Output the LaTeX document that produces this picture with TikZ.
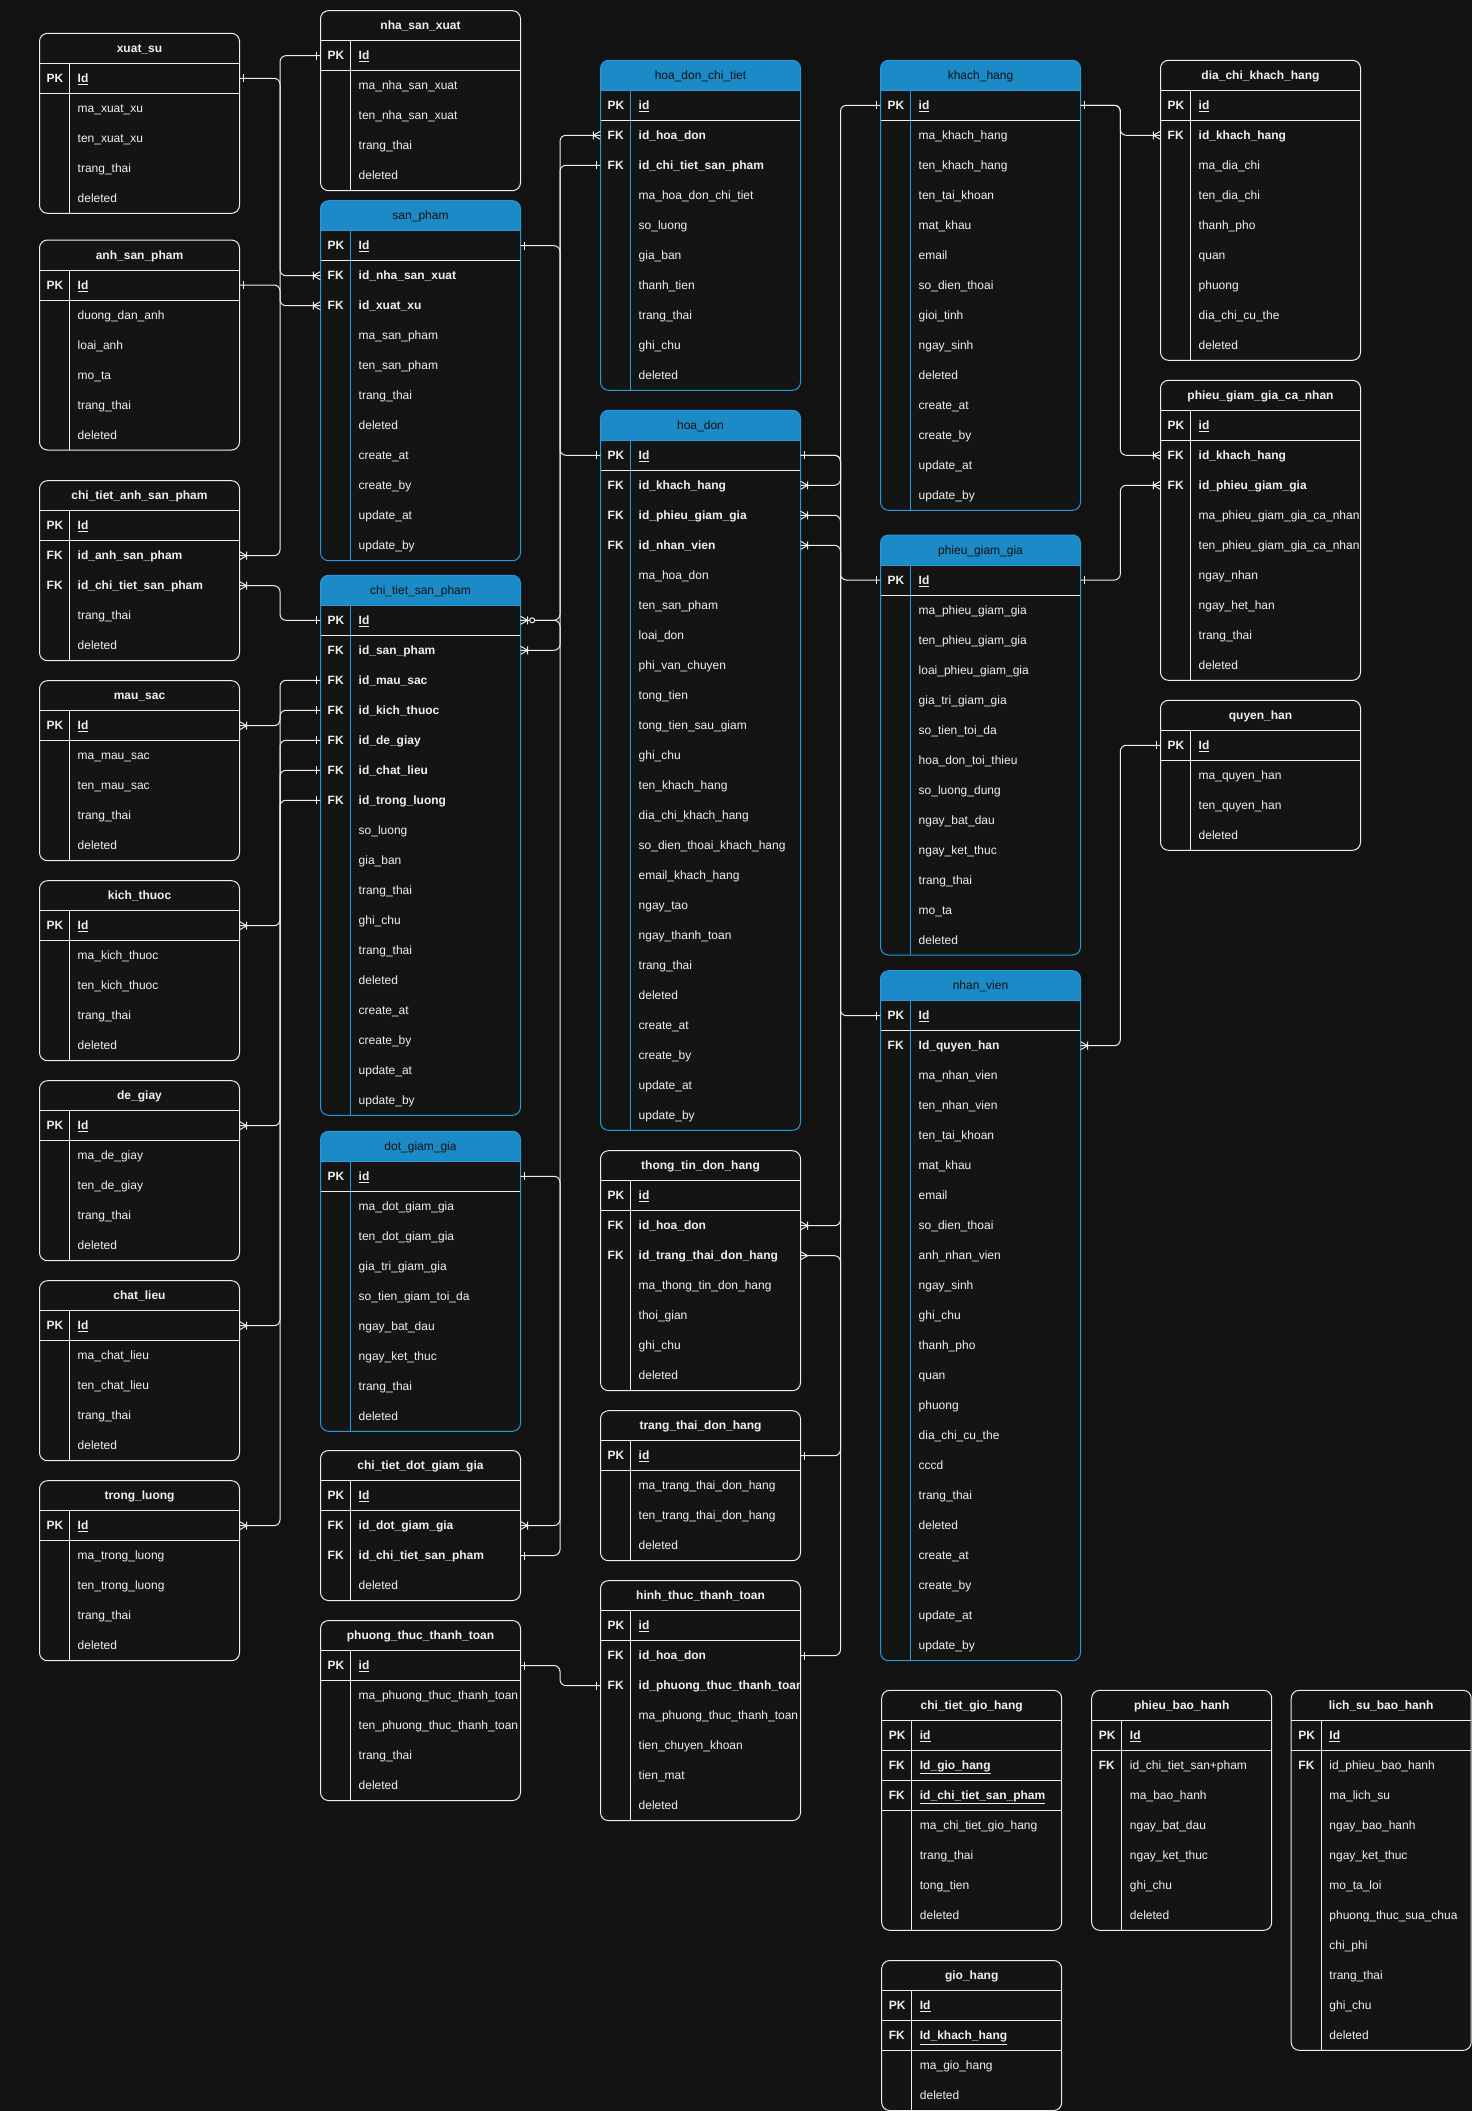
\documentclass[tikz,border=0pt]{standalone}
\usepackage{fontspec}
\setmainfont{Liberation Sans}
\definecolor{bgc}{HTML}{121212}
\definecolor{tblbg}{HTML}{141414}
\definecolor{ertext}{HTML}{F0F0F0}
\definecolor{erline}{HTML}{EEEEEE}
\definecolor{erhead}{HTML}{1B8AC6}
\definecolor{erblue}{HTML}{2A97DA}
\definecolor{erdark}{HTML}{111111}
\newcommand{\pk}[1]{\textbf{\underline{#1}}}
\newcommand{\fk}[1]{\textbf{#1}}
\tikzset{
  cline/.style={draw=erline, line width=1pt},
  rowbox/.style={inner sep=0pt, minimum height=30pt, draw=none},
  keytxt/.style={anchor=west, inner sep=0pt, text=ertext, font=\bfseries\fontsize{12}{14}\selectfont, text height=10pt, text depth=1.5pt},
  fldtxt/.style={anchor=west, inner sep=0pt, text=ertext, font=\fontsize{12}{14}\selectfont, text height=10pt, text depth=1.5pt},
  bluebd/.style={draw=erblue, line width=1pt},
  whitebd/.style={draw=erline, line width=1pt},
  bluehd/.style={fill=erhead},
  whitehd/.style={fill=tblbg},
  bluett/.style={inner sep=0pt, text=erdark, font=\fontsize{12}{14}\selectfont, text height=10pt, text depth=1.5pt},
  whitett/.style={inner sep=0pt, text=ertext, font=\bfseries\fontsize{12}{14}\selectfont, text height=10pt, text depth=1.5pt},
  sepline/.style={draw=erline, line width=1pt},
  mkone/.pic={\draw[cline] (4,-4) -- (4,4);},
  mkmany/.pic={\draw[cline] (0,-4) -- (7,0) -- (0,4);},
  mkonemany/.pic={\draw[cline] (0,-4) -- (7,0) -- (0,4) (7,-4) -- (7,4);},
  mkzeromany/.pic={\draw[cline] (0,-4) -- (7,0) -- (0,4) (7,-4) -- (7,4); \draw[cline, fill=bgc] (11.5,0) circle[radius=2.5];},
}
% #1 name, #2 x, #3 y, #4 w, #5 rows, #6 kind, #7 title, #8 rows list
\newcommand{\ertbl}[8]{%
  \pgfmathsetmacro{\erX}{#2}%
  \pgfmathsetmacro{\erY}{#3}%
  \pgfmathsetmacro{\erW}{#4}%
  \pgfmathsetmacro{\erB}{#3+30*(#5+1)}%
  \pgfmathsetmacro{\erR}{#2+#4}%
  \pgfmathsetmacro{\erH}{#3+30}%
  \pgfmathsetmacro{\erK}{#2+30}%
  \pgfmathsetmacro{\erC}{#2+#4/2}%
  \fill[tblbg, rounded corners=8pt] (\erX,\erY) rectangle (\erR,\erB);
  \fill[#6hd, rounded corners=8pt] (\erX,\erY) rectangle (\erR,\erH);
  \fill[#6hd] (\erX,\erY+15) rectangle (\erR,\erH);
  \node[#6tt] (#1-h) at (\erC,\erY+15) {#7};
  \draw[#6bd] (\erK,\erH) -- (\erK,\erB);
  \draw[#6bd] (\erX,\erH) -- (\erR,\erH);
  \begin{scope}
    \clip (\erX,\erY) rectangle (\erR,\erB);
    \foreach \erk/\ert/\ers [count=\eri] in {#8} {
      \pgfmathsetmacro{\erYc}{\erY+30*\eri+15}
      \node[rowbox, minimum width=\erW pt] (#1-r\eri) at (\erC,\erYc) {};
      \node[keytxt] at (\erX+7,\erYc) {\erk};
      \node[fldtxt] at (\erX+38,\erYc) {\ert};
      \ifnum\ers>0 \draw[sepline] (\erX,\erYc+15) -- (\erR,\erYc+15); \fi
    }
  \end{scope}
  \draw[#6bd, rounded corners=8pt] (\erX,\erY) rectangle (\erR,\erB);
}
\newcommand{\erlink}[3]{\draw[cline, rounded corners=6pt] (#1) -- (#1 -| #3) -- (#3 |- #2) -- (#2);}
\newcommand{\mkE}[2]{\pic at (#1.east) {#2};}
\newcommand{\mkW}[2]{\pic[xscale=-1] at (#1.west) {#2};}
\begin{document}
\begin{tikzpicture}[x=1pt,y=-1pt]
\useasboundingbox (0,0) rectangle (1472,2111);
\fill[bgc] (0,0) rectangle (1472,2111);
\coordinate (chA) at (280,0);
\coordinate (chB) at (560,0);
\coordinate (chC) at (840.5,0);
\coordinate (chD) at (1120.3,0);
% column 1
\ertbl{xs}{39.5}{33.3}{200}{5}{white}{xuat\_su}{PK/\pk{Id}/1, /ma\_xuat\_xu/0, /ten\_xuat\_xu/0, /trang\_thai/0, /deleted/0}
\ertbl{asp}{39.5}{240}{200}{6}{white}{anh\_san\_pham}{PK/\pk{Id}/1, /duong\_dan\_anh/0, /loai\_anh/0, /mo\_ta/0, /trang\_thai/0, /deleted/0}
\ertbl{ctasp}{39.5}{480.7}{200}{5}{white}{chi\_tiet\_anh\_san\_pham}{PK/\pk{Id}/1, FK/\fk{id\_anh\_san\_pham}/0, FK/\fk{id\_chi\_tiet\_san\_pham}/0, /trang\_thai/0, /deleted/0}
\ertbl{ms}{39.5}{680.7}{200}{5}{white}{mau\_sac}{PK/\pk{Id}/1, /ma\_mau\_sac/0, /ten\_mau\_sac/0, /trang\_thai/0, /deleted/0}
\ertbl{kt}{39.5}{880.7}{200}{5}{white}{kich\_thuoc}{PK/\pk{Id}/1, /ma\_kich\_thuoc/0, /ten\_kich\_thuoc/0, /trang\_thai/0, /deleted/0}
\ertbl{dg}{39.5}{1080.7}{200}{5}{white}{de\_giay}{PK/\pk{Id}/1, /ma\_de\_giay/0, /ten\_de\_giay/0, /trang\_thai/0, /deleted/0}
\ertbl{cl}{39.5}{1280.7}{200}{5}{white}{chat\_lieu}{PK/\pk{Id}/1, /ma\_chat\_lieu/0, /ten\_chat\_lieu/0, /trang\_thai/0, /deleted/0}
\ertbl{tl}{39.5}{1480.7}{200}{5}{white}{trong\_luong}{PK/\pk{Id}/1, /ma\_trong\_luong/0, /ten\_trong\_luong/0, /trang\_thai/0, /deleted/0}
% column 2
\ertbl{nsx}{320.5}{10.7}{200}{5}{white}{nha\_san\_xuat}{PK/\pk{Id}/1, /ma\_nha\_san\_xuat/0, /ten\_nha\_san\_xuat/0, /trang\_thai/0, /deleted/0}
\ertbl{sp}{320.5}{200.7}{200}{11}{blue}{san\_pham}{PK/\pk{Id}/1, FK/\fk{id\_nha\_san\_xuat}/0, FK/\fk{id\_xuat\_xu}/0, /ma\_san\_pham/0, /ten\_san\_pham/0, /trang\_thai/0, /deleted/0, /create\_at/0, /create\_by/0, /update\_at/0, /update\_by/0}
\ertbl{ctsp}{320.5}{575.3}{200}{17}{blue}{chi\_tiet\_san\_pham}{PK/\pk{Id}/1, FK/\fk{id\_san\_pham}/0, FK/\fk{id\_mau\_sac}/0, FK/\fk{id\_kich\_thuoc}/0, FK/\fk{id\_de\_giay}/0, FK/\fk{id\_chat\_lieu}/0, FK/\fk{id\_trong\_luong}/0, /so\_luong/0, /gia\_ban/0, /trang\_thai/0, /ghi\_chu/0, /trang\_thai/0, /deleted/0, /create\_at/0, /create\_by/0, /update\_at/0, /update\_by/0}
\ertbl{dgg}{320.5}{1131.3}{200}{9}{blue}{dot\_giam\_gia}{PK/\pk{id}/1, /ma\_dot\_giam\_gia/0, /ten\_dot\_giam\_gia/0, /gia\_tri\_giam\_gia/0, /so\_tien\_giam\_toi\_da/0, /ngay\_bat\_dau/0, /ngay\_ket\_thuc/0, /trang\_thai/0, /deleted/0}
\ertbl{ctdgg}{320.5}{1450.5}{200}{4}{white}{chi\_tiet\_dot\_giam\_gia}{PK/\pk{Id}/1, FK/\fk{id\_dot\_giam\_gia}/0, FK/\fk{id\_chi\_tiet\_san\_pham}/0, /deleted/0}
\ertbl{pttt}{320.5}{1620.5}{200}{5}{white}{phuong\_thuc\_thanh\_toan}{PK/\pk{id}/1, /ma\_phuong\_thuc\_thanh\_toan/0, /ten\_phuong\_thuc\_thanh\_toan/0, /trang\_thai/0, /deleted/0}
% column 3
\ertbl{hdct}{600.5}{60.3}{200}{10}{blue}{hoa\_don\_chi\_tiet}{PK/\pk{id}/1, FK/\fk{id\_hoa\_don}/0, FK/\fk{id\_chi\_tiet\_san\_pham}/0, /ma\_hoa\_don\_chi\_tiet/0, /so\_luong/0, /gia\_ban/0, /thanh\_tien/0, /trang\_thai/0, /ghi\_chu/0, /deleted/0}
\ertbl{hd}{600.5}{410.3}{200}{23}{blue}{hoa\_don}{PK/\pk{Id}/1, FK/\fk{id\_khach\_hang}/0, FK/\fk{id\_phieu\_giam\_gia}/0, FK/\fk{id\_nhan\_vien}/0, /ma\_hoa\_don/0, /ten\_san\_pham/0, /loai\_don/0, /phi\_van\_chuyen/0, /tong\_tien/0, /tong\_tien\_sau\_giam/0, /ghi\_chu/0, /ten\_khach\_hang/0, /dia\_chi\_khach\_hang/0, /so\_dien\_thoai\_khach\_hang/0, /email\_khach\_hang/0, /ngay\_tao/0, /ngay\_thanh\_toan/0, /trang\_thai/0, /deleted/0, /create\_at/0, /create\_by/0, /update\_at/0, /update\_by/0}
\ertbl{ttdh}{600.5}{1150.7}{200}{7}{white}{thong\_tin\_don\_hang}{PK/\pk{id}/1, FK/\fk{id\_hoa\_don}/0, FK/\fk{id\_trang\_thai\_don\_hang}/0, /ma\_thong\_tin\_don\_hang/0, /thoi\_gian/0, /ghi\_chu/0, /deleted/0}
\ertbl{tt}{600.5}{1410.7}{200}{4}{white}{trang\_thai\_don\_hang}{PK/\pk{id}/1, /ma\_trang\_thai\_don\_hang/0, /ten\_trang\_thai\_don\_hang/0, /deleted/0}
\ertbl{httt}{600.5}{1580.6}{200}{7}{white}{hinh\_thuc\_thanh\_toan}{PK/\pk{id}/1, FK/\fk{id\_hoa\_don}/0, FK/\fk{id\_phuong\_thuc\_thanh\_toan}/0, /ma\_phuong\_thuc\_thanh\_toan/0, /tien\_chuyen\_khoan/0, /tien\_mat/0, /deleted/0}
% column 4
\ertbl{kh}{880.5}{60.3}{200}{14}{blue}{khach\_hang}{PK/\pk{id}/1, /ma\_khach\_hang/0, /ten\_khach\_hang/0, /ten\_tai\_khoan/0, /mat\_khau/0, /email/0, /so\_dien\_thoai/0, /gioi\_tinh/0, /ngay\_sinh/0, /deleted/0, /create\_at/0, /create\_by/0, /update\_at/0, /update\_by/0}
\ertbl{pgg}{880.5}{535}{200}{13}{blue}{phieu\_giam\_gia}{PK/\pk{Id}/1, /ma\_phieu\_giam\_gia/0, /ten\_phieu\_giam\_gia/0, /loai\_phieu\_giam\_gia/0, /gia\_tri\_giam\_gia/0, /so\_tien\_toi\_da/0, /hoa\_don\_toi\_thieu/0, /so\_luong\_dung/0, /ngay\_bat\_dau/0, /ngay\_ket\_thuc/0, /trang\_thai/0, /mo\_ta/0, /deleted/0}
\ertbl{nv}{880.5}{970.7}{200}{22}{blue}{nhan\_vien}{PK/\pk{Id}/1, FK/\fk{Id\_quyen\_han}/0, /ma\_nhan\_vien/0, /ten\_nhan\_vien/0, /ten\_tai\_khoan/0, /mat\_khau/0, /email/0, /so\_dien\_thoai/0, /anh\_nhan\_vien/0, /ngay\_sinh/0, /ghi\_chu/0, /thanh\_pho/0, /quan/0, /phuong/0, /dia\_chi\_cu\_the/0, /cccd/0, /trang\_thai/0, /deleted/0, /create\_at/0, /create\_by/0, /update\_at/0, /update\_by/0}
% column 5
\ertbl{dckh}{1160.5}{60.3}{200}{9}{white}{dia\_chi\_khach\_hang}{PK/\pk{id}/1, FK/\fk{id\_khach\_hang}/0, /ma\_dia\_chi/0, /ten\_dia\_chi/0, /thanh\_pho/0, /quan/0, /phuong/0, /dia\_chi\_cu\_the/0, /deleted/0}
\ertbl{pggcn}{1160.5}{380.3}{200}{9}{white}{phieu\_giam\_gia\_ca\_nhan}{PK/\pk{id}/1, FK/\fk{id\_khach\_hang}/0, FK/\fk{id\_phieu\_giam\_gia}/0, /ma\_phieu\_giam\_gia\_ca\_nhan/0, /ten\_phieu\_giam\_gia\_ca\_nhan/0, /ngay\_nhan/0, /ngay\_het\_han/0, /trang\_thai/0, /deleted/0}
\ertbl{qh}{1160.5}{700.3}{200}{4}{white}{quyen\_han}{PK/\pk{Id}/1, /ma\_quyen\_han/0, /ten\_quyen\_han/0, /deleted/0}
% bottom row
\ertbl{ctgh}{881.7}{1690.3}{180}{7}{white}{chi\_tiet\_gio\_hang}{PK/\pk{id}/1, FK/\pk{Id\_gio\_hang}/1, FK/\pk{id\_chi\_tiet\_san\_pham}/1, /ma\_chi\_tiet\_gio\_hang/0, /trang\_thai/0, /tong\_tien/0, /deleted/0}
\ertbl{gh}{881.7}{1960.5}{180}{4}{white}{gio\_hang}{PK/\pk{Id}/1, FK/\pk{Id\_khach\_hang}/1, /ma\_gio\_hang/0, /deleted/0}
\ertbl{pbh}{1091.7}{1690.3}{180}{7}{white}{phieu\_bao\_hanh}{PK/\pk{Id}/1, FK/id\_chi\_tiet\_san+pham/0, /ma\_bao\_hanh/0, /ngay\_bat\_dau/0, /ngay\_ket\_thuc/0, /ghi\_chu/0, /deleted/0}
\ertbl{lsbh}{1291.2}{1690.3}{180}{11}{white}{lich\_su\_bao\_hanh}{PK/\pk{Id}/1, FK/id\_phieu\_bao\_hanh/0, /ma\_lich\_su/0, /ngay\_bao\_hanh/0, /ngay\_ket\_thuc/0, /mo\_ta\_loi/0, /phuong\_thuc\_sua\_chua/0, /chi\_phi/0, /trang\_thai/0, /ghi\_chu/0, /deleted/0}
% connectors, channel A
\erlink{xs-r1.east}{sp-r3.west}{chA}
\erlink{nsx-r1.west}{sp-r2.west}{chA}
\erlink{asp-r1.east}{ctasp-r2.east}{chA}
\erlink{ctasp-r3.east}{ctsp-r1.west}{chA}
\erlink{ms-r1.east}{ctsp-r3.west}{chA}
\erlink{kt-r1.east}{ctsp-r4.west}{chA}
\erlink{dg-r1.east}{ctsp-r5.west}{chA}
\erlink{cl-r1.east}{ctsp-r6.west}{chA}
\erlink{tl-r1.east}{ctsp-r7.west}{chA}
% channel B
\erlink{sp-r1.east}{ctsp-r2.east}{chB}
\erlink{hdct-r2.west}{hd-r1.west}{chB}
\erlink{hdct-r3.west}{ctsp-r1.east}{chB}
\erlink{ctdgg-r3.east}{ctsp-r1.east}{chB}
\erlink{dgg-r1.east}{ctdgg-r2.east}{chB}
\erlink{pttt-r1.east}{httt-r3.west}{chB}
% channel C
\erlink{kh-r1.west}{hd-r2.east}{chC}
\erlink{hd-r3.east}{pgg-r1.west}{chC}
\erlink{hd-r4.east}{nv-r1.west}{chC}
\erlink{hd-r1.east}{ttdh-r2.east}{chC}
\erlink{hd-r1.east}{httt-r2.east}{chC}
\erlink{ttdh-r3.east}{tt-r1.east}{chC}
% channel D
\erlink{kh-r1.east}{dckh-r2.west}{chD}
\erlink{kh-r1.east}{pggcn-r2.west}{chD}
\erlink{pgg-r1.east}{pggcn-r3.west}{chD}
\erlink{nv-r2.east}{qh-r1.west}{chD}
% markers
\mkE{xs-r1}{mkone} \mkW{sp-r3}{mkonemany}
\mkW{nsx-r1}{mkone} \mkW{sp-r2}{mkonemany}
\mkE{asp-r1}{mkone} \mkE{ctasp-r2}{mkonemany}
\mkE{ctasp-r3}{mkonemany} \mkW{ctsp-r1}{mkone}
\mkE{ms-r1}{mkonemany} \mkW{ctsp-r3}{mkone}
\mkE{kt-r1}{mkonemany} \mkW{ctsp-r4}{mkone}
\mkE{dg-r1}{mkonemany} \mkW{ctsp-r5}{mkone}
\mkE{cl-r1}{mkonemany} \mkW{ctsp-r6}{mkone}
\mkE{tl-r1}{mkonemany} \mkW{ctsp-r7}{mkone}
\mkE{sp-r1}{mkone} \mkE{ctsp-r2}{mkonemany}
\mkW{hdct-r2}{mkonemany} \mkW{hd-r1}{mkone}
\mkW{hdct-r3}{mkone} \mkE{ctsp-r1}{mkzeromany}
\mkE{ctdgg-r3}{mkone}
\mkE{dgg-r1}{mkone} \mkE{ctdgg-r2}{mkonemany}
\mkE{pttt-r1}{mkone} \mkW{httt-r3}{mkone}
\mkW{kh-r1}{mkone} \mkE{hd-r2}{mkonemany}
\mkE{hd-r3}{mkonemany} \mkW{pgg-r1}{mkone}
\mkE{hd-r4}{mkonemany} \mkW{nv-r1}{mkone}
\mkE{hd-r1}{mkone} \mkE{ttdh-r2}{mkonemany}
\mkE{httt-r2}{mkone}
\mkE{ttdh-r3}{mkmany} \mkE{tt-r1}{mkone}
\mkE{kh-r1}{mkone} \mkW{dckh-r2}{mkonemany}
\mkW{pggcn-r2}{mkonemany}
\mkE{pgg-r1}{mkone} \mkW{pggcn-r3}{mkonemany}
\mkE{nv-r2}{mkonemany} \mkW{qh-r1}{mkone}
\end{tikzpicture}
\end{document}
